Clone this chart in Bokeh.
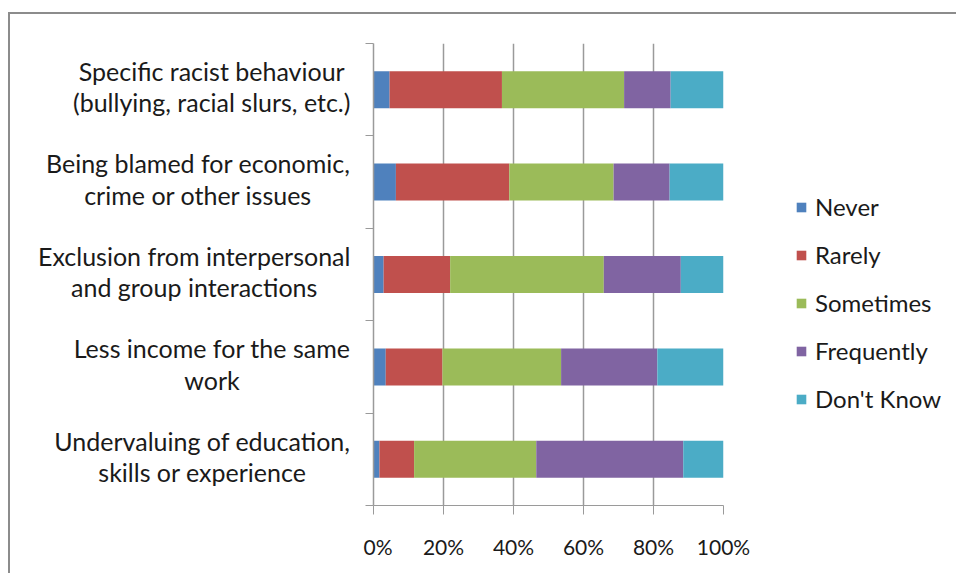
from bokeh.plotting import figure
from bokeh.layouts import row
from bokeh.models import (Range1d, FixedTicker, PrintfTickFormatter,
                          ColumnDataSource, Legend)
from bokeh.core.properties import value
from bokeh.embed import file_html
from bokeh.resources import INLINE

# categories listed bottom to top
categories = [
    "Undervaluing of education,\nskills or experience",
    "Less income for the same\nwork",
    "Exclusion from interpersonal\nand group interactions",
    "Being blamed for economic,\ncrime or other issues",
    "Specific racist behaviour\n(bullying, racial slurs, etc.)",
]
series = ["Never", "Rarely", "Sometimes", "Frequently", "Don't Know"]
never = [1.7, 3.5, 2.9, 6.4, 4.6]
rarely = [9.9, 16.2, 19.0, 32.4, 32.1]
sometimes = [34.9, 33.9, 43.9, 29.8, 34.9]
frequently = [42.0, 27.5, 22.0, 16.0, 13.3]
dont_know = [11.5, 18.9, 12.2, 15.4, 15.1]
x_ticks = [0, 20, 40, 60, 80, 100]
colors = ["#4F81BD", "#C0504D", "#9BBB59", "#8064A2", "#4BACC6"]

FONT = "Lato"
GRAY = "#9a9a9a"
TXT = "#1a1a1a"
BORDER = "2px solid #8c8c8c"
LABEL_W = 353

centers = [i + 0.5 for i in range(len(categories))]
bounds = [i for i in range(len(categories) + 1)]
yr = Range1d(0, len(categories))

source = ColumnDataSource(data=dict(
    y=centers, Never=never, Rarely=rarely, Sometimes=sometimes,
    Frequently=frequently, **{"Don't Know": dont_know}))

# ---- label panel (left) ----
lp = figure(frame_width=LABEL_W, frame_height=460, output_backend="svg",
            toolbar_location=None, x_range=Range1d(0, LABEL_W), y_range=yr,
            x_axis_location=None, y_axis_location=None,
            min_border_left=0, min_border_right=0, min_border_top=29,
            min_border_bottom=70)
lp.outline_line_color = None
lp.grid.visible = False
lp.styles = {"border-left": BORDER, "border-top": BORDER}
lsrc = ColumnDataSource(data=dict(x=[LABEL_W - 15] * len(categories), y=centers,
                                  t=categories))
lp.text(x="x", y="y", text="t", source=lsrc, anchor="center_right",
        text_align="center", text_baseline="middle", y_offset=-3,
        text_font=value(FONT), text_font_size="25px", text_color=TXT,
        text_line_height=1.05)

# ---- main chart ----
p = figure(frame_width=348, frame_height=460, output_backend="svg",
           toolbar_location=None,
           x_range=Range1d(0, 100), y_range=yr,
           min_border_left=10, min_border_right=221, min_border_top=29,
           min_border_bottom=70)
p.outline_line_color = None
p.styles = {"border-top": BORDER, "border-right": BORDER}

renderers = p.hbar_stack(series, y="y", height=0.4, color=colors, source=source,
                         line_color=None)

p.xaxis.ticker = FixedTicker(ticks=x_ticks)
p.xaxis.formatter = PrintfTickFormatter(format="%d%%")
p.xaxis.axis_line_color = GRAY
p.xaxis.major_tick_line_color = GRAY
p.xaxis.major_tick_out = 9
p.xaxis.major_tick_in = 0
p.xaxis.minor_tick_line_color = None
p.xaxis.major_label_standoff = 19
p.xaxis.major_label_text_font = FONT
p.xaxis.major_label_text_font_size = "21px"
p.xaxis.major_label_text_color = TXT

p.xgrid.ticker = FixedTicker(ticks=x_ticks)
p.xgrid.grid_line_color = GRAY
p.xgrid.grid_line_width = 1.5
p.ygrid.visible = False

p.yaxis.ticker = FixedTicker(ticks=bounds)
p.yaxis.major_label_overrides = {b: "" for b in bounds}
p.yaxis.major_label_standoff = 0
p.yaxis.axis_line_color = GRAY
p.yaxis.axis_line_width = 1.5
p.yaxis.major_tick_line_color = GRAY
p.yaxis.major_tick_out = 8
p.yaxis.major_tick_in = 0
p.yaxis.minor_tick_line_color = None

legend = Legend(items=[(s, [r]) for s, r in zip(series, renderers)],
                location=(72, 92))
legend.label_text_font = FONT
legend.label_text_font_size = "24px"
legend.label_text_color = TXT
legend.glyph_width = 12
legend.glyph_height = 12
legend.label_height = 20
legend.label_standoff = 8
legend.spacing = 19
legend.padding = 0
legend.margin = 0
legend.border_line_color = None
legend.background_fill_alpha = 0
p.add_layout(legend, "right")

layout = row(lp, p, spacing=0)
layout.margin = (12, 0, 0, 8)

open("out.html", "w").write(file_html(layout, INLINE))
